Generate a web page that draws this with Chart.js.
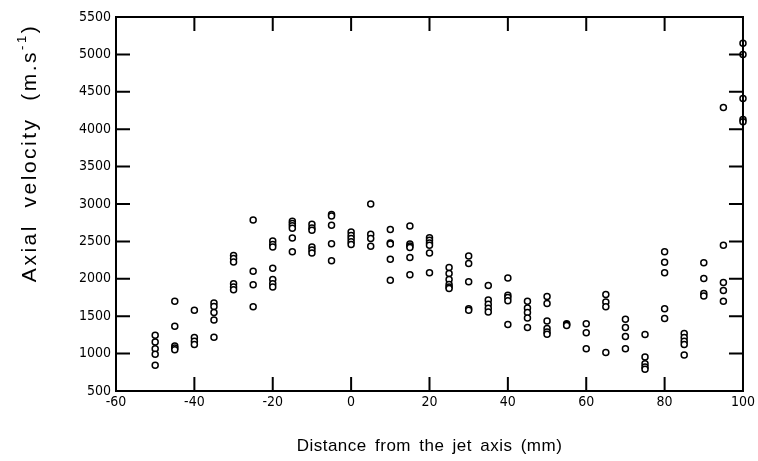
<!DOCTYPE html>
<html>
<head>
<meta charset="utf-8">
<script src="https://cdn.jsdelivr.net/npm/chart.js@4.4.1/dist/chart.umd.min.js"></script>
<style>
  html, body { margin: 0; padding: 0; background: #fff; }
  #wrap { width: 758px; height: 461px; }
</style>
</head>
<body>
<div id="wrap"><canvas id="chart"></canvas></div>
<script>
// Vitesse axiale mesurée en fonction de la distance à l'axe du jet
const xTicks = [-60, -40, -20, 0, 20, 40, 60, 80, 100];
const yTicks = [500, 1000, 1500, 2000, 2500, 3000, 3500, 4000, 4500, 5000, 5500];

// positions radiales (mm) et vitesses relevées à chaque position
const positions = [-50, -45, -40, -35, -30, -25, -20, -15, -10, -5, 0, 5, 10, 15, 20, 25, 30, 35, 40, 45, 50, 55, 60, 65, 70, 75, 80, 85, 90, 95, 100];
const velocities = [
    [1245, 1155, 1065, 990, 845],
    [1700, 1365, 1100, 1075, 1050],
    [1580, 1215, 1165, 1120],
    [1675, 1630, 1550, 1450, 1220],
    [2310, 2270, 2225, 1935, 1890, 1855],
    [2785, 2100, 1920, 1625],
    [2505, 2460, 2425, 2140, 1990, 1935, 1890],
    [2770, 2740, 2710, 2675, 2545, 2360],
    [2730, 2680, 2650, 2425, 2385, 2345],
    [2860, 2840, 2715, 2470, 2240],
    [2625, 2580, 2540, 2495, 2460],
    [3000, 2595, 2540, 2435],
    [2660, 2480, 2465, 2260, 1980],
    [2705, 2465, 2440, 2420, 2285, 2055],
    [2550, 2515, 2480, 2450, 2345, 2080],
    [2150, 2070, 1990, 1925, 1890, 1870],
    [2305, 2205, 1960, 1600, 1580],
    [1910, 1715, 1660, 1605, 1555],
    [2010, 1780, 1750, 1705, 1390],
    [1700, 1610, 1550, 1475, 1350],
    [1765, 1670, 1435, 1335, 1290, 1260],
    [1400, 1390, 1375],
    [1400, 1280, 1065],
    [1790, 1690, 1625, 1015],
    [1460, 1350, 1230, 1065],
    [1255, 955, 865, 820, 790],
    [2360, 2220, 2080, 1600, 1470],
    [1270, 1215, 1165, 1120, 980],
    [2215, 2005, 1805, 1770],
    [4290, 2450, 1950, 1845, 1700],
    [5150, 5000, 4410, 4130, 4100],
];

const points = [];
positions.forEach((x, i) => velocities[i].forEach(v => points.push({ x, y: v })));

const tickFont = { family: '"DejaVu Sans Condensed", "DejaVu Sans", sans-serif', size: 14 };

// ── cadre, graduations intérieures et titres d'axes ───────────────────────
const framePlugin = {
    id: 'frame',
    afterDraw(chart) {
        const { ctx, chartArea: a, scales } = chart;
        ctx.save();
        ctx.strokeStyle = '#000';
        ctx.lineWidth = 2;
        ctx.strokeRect(a.left, a.top, a.right - a.left, a.bottom - a.top);

        const tl = 14;
        ctx.beginPath();
        xTicks.slice(1, -1).forEach(v => {
            const px = scales.x.getPixelForValue(v);
            ctx.moveTo(px, a.bottom); ctx.lineTo(px, a.bottom - tl);
            ctx.moveTo(px, a.top); ctx.lineTo(px, a.top + tl);
        });
        yTicks.slice(1, -1).forEach(v => {
            const py = scales.y.getPixelForValue(v);
            ctx.moveTo(a.left, py); ctx.lineTo(a.left + tl, py);
            ctx.moveTo(a.right, py); ctx.lineTo(a.right - tl, py);
        });
        ctx.stroke();

        ctx.fillStyle = '#000';
        ctx.textBaseline = 'middle';

        // titre X
        ctx.letterSpacing = '0.5px';
        ctx.wordSpacing = '3px';
        ctx.font = '17px "Liberation Sans", Arial, sans-serif';
        ctx.textAlign = 'center';
        ctx.fillText('Distance from the jet axis (mm)', (a.left + a.right) / 2, 446);

        // titre Y (avec exposant)
        ctx.letterSpacing = '2.5px';
        ctx.wordSpacing = '0px';
        ctx.translate(30, 153);
        ctx.rotate(-Math.PI / 2);
        const main = 'Axial  velocity  (m.s';
        const sup = '-1';
        const end = ')';
        ctx.font = '21px "Liberation Sans", Arial, sans-serif';
        const wMain = ctx.measureText(main).width;
        const wEnd = ctx.measureText(end).width;
        ctx.font = '13px "Liberation Sans", Arial, sans-serif';
        const wSup = ctx.measureText(sup).width;
        const x0 = -(wMain + wSup + wEnd) / 2;
        ctx.textAlign = 'left';
        ctx.font = '21px "Liberation Sans", Arial, sans-serif';
        ctx.fillText(main, x0, 0);
        ctx.font = '13px "Liberation Sans", Arial, sans-serif';
        ctx.fillText(sup, x0 + wMain, -8);
        ctx.font = '21px "Liberation Sans", Arial, sans-serif';
        ctx.fillText(end, x0 + wMain + wSup, 0);
        ctx.restore();
    },
};

new Chart(document.getElementById('chart'), {
    type: 'scatter',
    data: {
        datasets: [{
            data: points,
            clip: false,
            pointRadius: 3,
            pointHoverRadius: 3,
            pointBorderWidth: 1.5,
            pointBorderColor: '#000',
            pointBackgroundColor: '#fff',
        }],
    },
    options: {
        responsive: true,
        maintainAspectRatio: false,
        animation: false,
        events: [],
        layout: { padding: { left: 0, right: 13, top: 17, bottom: 0 } },
        plugins: { legend: { display: false }, tooltip: { enabled: false } },
        scales: {
            x: {
                type: 'linear',
                min: -60,
                max: 100,
                grid: { display: false, drawTicks: false },
                border: { display: false },
                afterBuildTicks: s => { s.ticks = xTicks.map(v => ({ value: v })); },
                afterFit: s => { s.height = 70; },
                ticks: { color: '#000', font: tickFont, padding: 3, maxRotation: 0, callback: v => String(v) },
            },
            y: {
                type: 'linear',
                min: 500,
                max: 5500,
                grid: { display: false, drawTicks: false },
                border: { display: false },
                afterBuildTicks: s => { s.ticks = yTicks.map(v => ({ value: v })); },
                afterFit: s => { s.width = 116; },
                ticks: { color: '#000', font: tickFont, padding: 5, callback: v => String(v) },
            },
        },
    },
    plugins: [framePlugin],
});
</script>
</body>
</html>
